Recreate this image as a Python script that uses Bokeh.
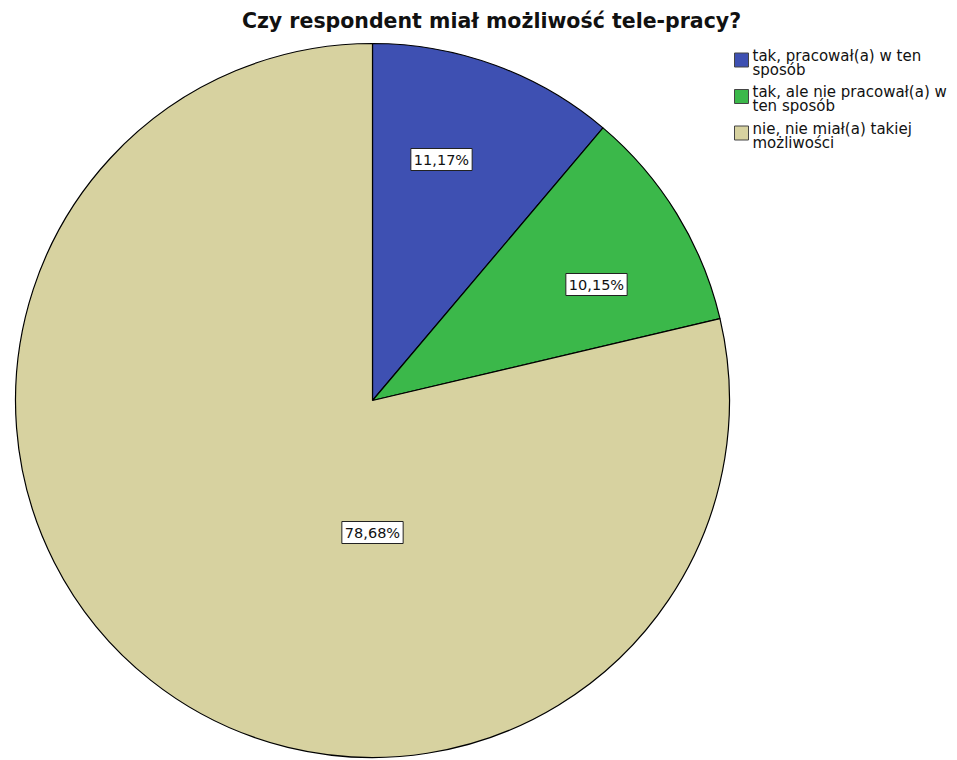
import numpy as np
from bokeh.plotting import figure
from bokeh.models import Range1d, Label, ColumnDataSource
from bokeh.embed import file_html
from bokeh.resources import INLINE

title = "Czy respondent miał możliwość tele-pracy?"
categories = ["tak, pracował(a) w ten\nsposób",
              "tak, ale nie pracował(a) w\nten sposób",
              "nie, nie miał(a) takiej\nmożliwości"]
values = [11.17, 10.15, 78.68]
label_texts = ["11,17%", "10,15%", "78,68%"]
colors = ["#3E50B2", "#3BB84A", "#D7D2A0"]
# label centres (pixel coords in the page)
label_pos = [(441, 159), (596, 284), (372, 532)]

W, H = 957, 760
p = figure(width=W, height=H, output_backend="svg", toolbar_location=None,
           x_range=Range1d(0, W), y_range=Range1d(0, H), min_border=0,
           outline_line_color=None, background_fill_color="white")
p.axis.visible = False
p.grid.visible = False

cx, cy, r = 372, H - 400, 357
frac = np.array(values) / sum(values)
ends = np.pi / 2 - 2 * np.pi * np.cumsum(frac)
starts = np.concatenate([[np.pi / 2], ends[:-1]])
src = ColumnDataSource(dict(start=starts, end=ends, color=colors))
p.wedge(x=cx, y=cy, radius=r, start_angle="start", end_angle="end",
        direction="clock", fill_color="color", line_color="black",
        line_width=1.2, source=src)

for (lx, ly), t in zip(label_pos, label_texts):
    p.add_layout(Label(x=lx, y=H - ly, text=t, text_align="center",
                       text_baseline="middle", text_font="DejaVu Sans",
                       text_font_size="14.5px", text_color="#111111",
                       background_fill_color="white", border_line_color="#222222",
                       border_line_width=1, padding=3))

p.add_layout(Label(x=491, y=H - 20, text=title, text_align="center",
                   text_baseline="middle", text_font="DejaVu Sans",
                   text_font_style="bold", text_font_size="20.5px",
                   text_color="#111111"))

# legend
ly0 = 52
for i, (cat, col) in enumerate(zip(categories, colors)):
    y = ly0 + i * 36.5
    p.rect(x=741, y=H - (y + 7.5), width=14, height=14, fill_color=col,
           line_color="#444444", line_width=1)
    p.add_layout(Label(x=752, y=H - (y - 6), text=cat, text_align="left",
                       text_baseline="top", text_font="DejaVu Sans",
                       text_font_size="15px", text_color="#111111",
                       text_line_height=0.8))

open("out.html", "w").write(file_html(p, INLINE))
